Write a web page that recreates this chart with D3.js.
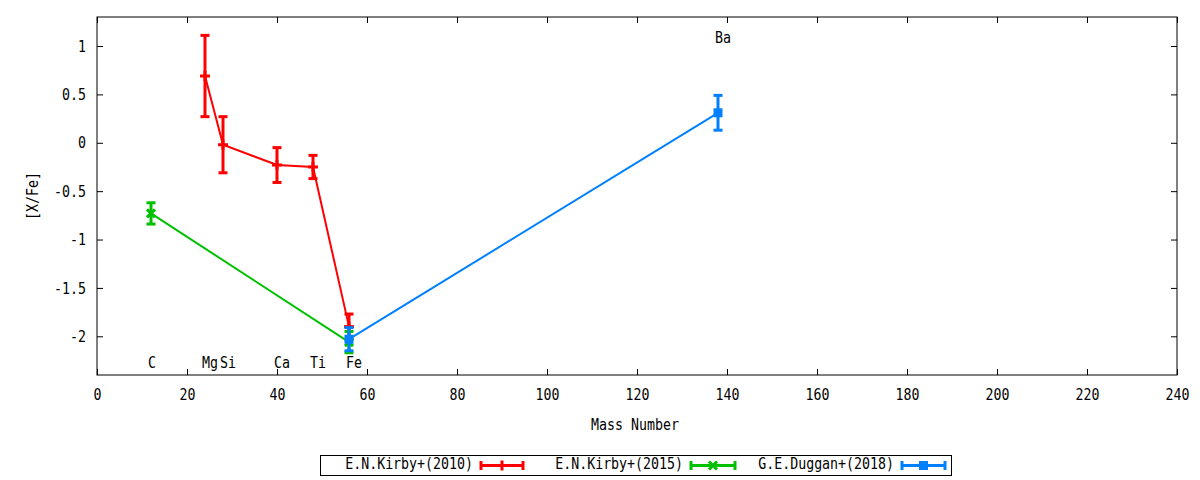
<!DOCTYPE html>
<html><head><meta charset="utf-8">
<script src="https://cdn.jsdelivr.net/npm/d3@7"></script>
<style>
body{margin:0;background:#fff;}
text{font-family:"DejaVu Sans Mono",monospace;font-size:16px;fill:#000;}
</style></head>
<body>
<svg id="c" width="1200" height="480"></svg>
<script>
// ---- data ----
const seriesNames = ["E.N.Kirby+(2010)", "E.N.Kirby+(2015)", "G.E.Duggan+(2018)"];
const seriesColors = ["#ff0000", "#00c000", "#0080ff"];
const seriesMarkers = ["plus", "cross", "square"];
const kirby2010Mass = [24, 28, 40, 48, 56];
const kirby2010Val  = [0.69, -0.02, -0.23, -0.25, -1.90];
const kirby2010Err  = [0.42, 0.29, 0.18, 0.12, 0.13];
const kirby2015Mass = [12, 56];
const kirby2015Val  = [-0.73, -2.06];
const kirby2015Err  = [0.11, 0.11];
const duggan2018Mass = [56, 138];
const duggan2018Val  = [-2.03, 0.31];
const duggan2018Err  = [0.12, 0.18];
const elementNames = ["C", "Mg", "Si", "Ca", "Ti", "Fe", "Ba"];
const elementMass  = [12, 24, 28, 40, 48, 56, 138];
const elementLabelY = [-2.27, -2.27, -2.27, -2.27, -2.27, -2.27, 1.09];
const xTicks = [0,20,40,60,80,100,120,140,160,180,200,220,240];
const yTicks = [1,0.5,0,-0.5,-1,-1.5,-2];
const yTickLabels = ["1","0.5","0","-0.5","-1","-1.5","-2"];

// ---- layout ----
const L=97, R=1177, T=17, B=375;
const SX=0.83; // horizontal condensing of the font
const svg=d3.select("#c");
const x=d3.scaleLinear().domain([0,240]).range([L,R]);
const y=d3.scaleLinear().domain([-2.4,1.3]).range([B,T]);

function condense(sel){
  sel.each(function(){
    const t=d3.select(this);
    const xv=+(t.attr("x")||0);
    t.attr("x",xv/SX);
    const tr=t.attr("transform")||"";
    t.attr("transform",(tr+" scale("+SX+",1)").trim());
  });
}

// frame
svg.append("rect").attr("x",L).attr("y",T).attr("width",R-L).attr("height",B-T)
  .attr("fill","none").attr("stroke","#000").attr("stroke-width",1);

// axes with inward ticks (mirrored)
const tl=6;
svg.append("g").attr("transform",`translate(0,${B})`)
  .call(d3.axisBottom(x).tickValues(xTicks).tickSize(-tl).tickPadding(14).tickFormat(d3.format("d")));
svg.append("g").attr("transform",`translate(0,${T})`)
  .call(d3.axisTop(x).tickValues(xTicks).tickSize(-tl).tickFormat(""));
svg.append("g").attr("transform",`translate(${L},0)`)
  .call(d3.axisLeft(y).tickValues(yTicks).tickSize(-tl).tickPadding(11).tickFormat((d,i)=>yTickLabels[i]));
svg.append("g").attr("transform",`translate(${R},0)`)
  .call(d3.axisRight(y).tickValues(yTicks).tickSize(-tl).tickFormat(""));
svg.selectAll(".domain").remove();
svg.selectAll(".tick line").attr("stroke","#000");
svg.selectAll(".tick text").style("font-family","DejaVu Sans Mono").style("font-size","16px");

// axis titles
svg.append("text").attr("x",635).attr("y",430).attr("text-anchor","middle").text("Mass Number");
svg.append("text").attr("transform","translate(38,196) rotate(-90)").attr("text-anchor","middle").text("[X/Fe]");

// element labels
svg.selectAll("text.el").data(elementNames).enter().append("text").attr("class","el")
  .attr("x",(d,i)=>x(elementMass[i])-3).attr("y",(d,i)=>y(elementLabelY[i])+6)
  .attr("text-anchor","start").text(d=>d);

// marker drawing
function marker(g,type,cx,cy,color){
  if(type==="plus"){
    g.append("line").attr("x1",cx-5).attr("x2",cx+5).attr("y1",cy).attr("y2",cy).attr("stroke",color).attr("stroke-width",3);
    g.append("line").attr("x1",cx).attr("x2",cx).attr("y1",cy-5).attr("y2",cy+5).attr("stroke",color).attr("stroke-width",3);
  } else if(type==="cross"){
    g.append("line").attr("x1",cx-4).attr("x2",cx+4).attr("y1",cy-4).attr("y2",cy+4).attr("stroke",color).attr("stroke-width",3);
    g.append("line").attr("x1",cx-4).attr("x2",cx+4).attr("y1",cy+4).attr("y2",cy-4).attr("stroke",color).attr("stroke-width",3);
  } else {
    g.append("rect").attr("x",cx-4.5).attr("y",cy-4.5).attr("width",9).attr("height",9).attr("fill",color);
  }
}

const series=[
  {m:kirby2010Mass,v:kirby2010Val,e:kirby2010Err},
  {m:kirby2015Mass,v:kirby2015Val,e:kirby2015Err},
  {m:duggan2018Mass,v:duggan2018Val,e:duggan2018Err}
];
const line=d3.line().x(d=>x(d[0])).y(d=>y(d[1]));
series.forEach((s,k)=>{
  const c=seriesColors[k];
  const g=svg.append("g");
  const pts=s.m.map((m,i)=>[m,s.v[i],s.e[i]]);
  g.append("path").attr("d",line(pts)).attr("fill","none").attr("stroke",c).attr("stroke-width",2);
  pts.forEach(p=>{
    const cx=x(p[0]), y1=y(p[1]+p[2]), y2=y(p[1]-p[2]);
    g.append("line").attr("x1",cx).attr("x2",cx).attr("y1",y1).attr("y2",y2).attr("stroke",c).attr("stroke-width",3);
    [y1,y2].forEach(yy=>g.append("line").attr("x1",cx-4.5).attr("x2",cx+4.5).attr("y1",yy).attr("y2",yy).attr("stroke",c).attr("stroke-width",3));
    marker(g,seriesMarkers[k],cx,y(p[1]),c);
  });
});

// legend
const lg=svg.append("g");
lg.append("rect").attr("x",320.5).attr("y",455.5).attr("width",631).attr("height",20)
  .attr("fill","none").attr("stroke","#000").attr("stroke-width",1);
const legTextEnd=[473,683,894], legS=[481,691,902], legE=[523,735,945];
seriesNames.forEach((n,k)=>{
  const c=seriesColors[k], ly=465.5;
  lg.append("text").attr("x",legTextEnd[k]).attr("y",469).attr("text-anchor","end").text(n);
  lg.append("line").attr("x1",legS[k]).attr("x2",legE[k]).attr("y1",ly).attr("y2",ly).attr("stroke",c).attr("stroke-width",3);
  [legS[k],legE[k]].forEach(xx=>lg.append("line").attr("x1",xx).attr("x2",xx).attr("y1",ly-4.5).attr("y2",ly+4.5).attr("stroke",c).attr("stroke-width",3));
  marker(lg,seriesMarkers[k],(legS[k]+legE[k])/2,ly,c);
});

condense(svg.selectAll("text"));
</script>
</body></html>
